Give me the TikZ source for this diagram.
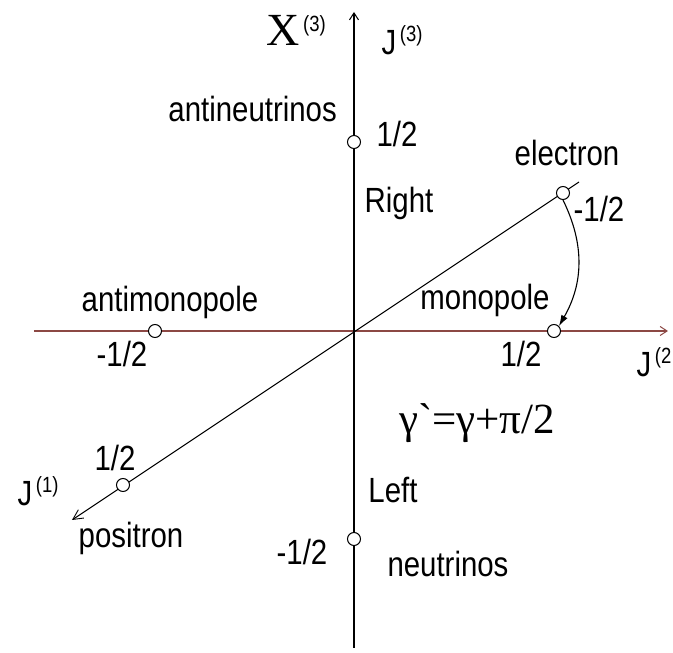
\documentclass[tikz,border=0pt]{standalone}
\usepackage{fontspec}
\setmainfont[FakeStretch=0.84]{Liberation Sans}
\newfontfamily\formulafont{Liberation Serif}
\usetikzlibrary{arrows.meta}

\definecolor{axisred}{RGB}{140,72,68}

\begin{document}
\begin{tikzpicture}[
    x=1pt, y=1pt,
    axis/.style={line width=1.3pt, -{Straight Barb[length=7pt, width=9pt, line width=1pt]}},
    diag/.style={line width=1pt, -{Straight Barb[length=10pt, width=10pt, line width=0.9pt]}},
    state/.style={circle, draw, line width=1pt, inner sep=0pt, minimum size=13pt, fill=white},
    lbl/.style={font=\fontsize{35}{38}\selectfont, inner sep=0pt},
    turn/.style={line width=1.1pt, -{Latex[length=11pt, width=7pt]}}
]

\useasboundingbox (-354,-322) rectangle (319,331);

% Axes
\coordinate (left) at (-320,0);
\coordinate (right) at (314,0);
\coordinate (bottom) at (0,-317);
\coordinate (top) at (0,319);
\coordinate (diagup) at (225,149);
\coordinate (diaglow) at (-282,-189);

\draw[axis, axisred] (left) -- (right);
\draw[axis] (bottom) -- (top);
\draw[diag] (diagup) -- (diaglow);

% States
\node[state] (antinu) at (0,189) {};
\node[state] (nu) at (0,-208) {};
\node[state] (antimono) at (-199,0) {};
\node[state] (mono) at (200,0) {};
\node[state] (el) at (209,138) {};
\node[state] (pos) at (-231,-154) {};

% Rotation electron -> monopole
\draw[turn] (el.south) to[bend left=28] (mono.north east);

% Axis names
\node[inner sep=0pt] (xname) at (-58,301) {\formulafont\fontsize{46}{46}\selectfont X\raisebox{14pt}{\normalfont\fontsize{22}{22}\selectfont\,(3)}};
\node[lbl] (jthree) at (48,291) {J\raisebox{13pt}{\fontsize{22}{22}\selectfont\,(3)}};
\node[lbl] (jtwo) at (300,-31) {J\raisebox{13pt}{\fontsize{22}{22}\selectfont\,(2}};
\node[lbl] (jone) at (-316,-160) {J\raisebox{13pt}{\fontsize{22}{22}\selectfont\,(1)}};

% Particle labels
\node[lbl, anchor=east] (antinutxt) at (-17,222) {antineutrinos};
\node[lbl] (antinuval) at (43,197) {1/2};
\node[lbl] (righttxt) at (45,128) {Right};
\node[lbl] (eltxt) at (213,178) {electron};
\node[lbl] (elval) at (245,122) {-1/2};
\node[lbl] (antimonotxt) at (-184,29) {antimonopole};
\node[lbl] (antimonoval) at (-232,-23) {-1/2};
\node[lbl] (monotxt) at (131,31) {monopole};
\node[lbl] (monoval) at (167,-23) {1/2};
\node[lbl] (posval) at (-239,-127) {1/2};
\node[lbl] (postxt) at (-223,-207) {positron};
\node[lbl] (lefttxt) at (39,-159) {Left};
\node[lbl] (nuval) at (-52,-221) {-1/2};
\node[lbl] (nutxt) at (94,-233) {neutrinos};

% Phase shift
\node[inner sep=0pt] (phase) at (123,-92) {\formulafont\fontsize{43}{43}\selectfont γ\char"0060=γ+π/2};

\end{tikzpicture}
\end{document}
